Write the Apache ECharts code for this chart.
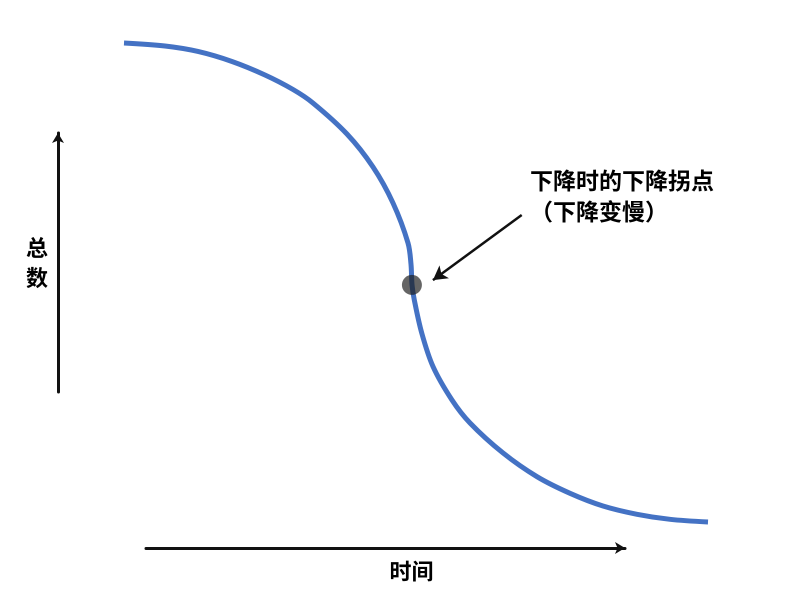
<!DOCTYPE html>
<html>
<head>
<meta charset="utf-8">
<script src="https://cdn.jsdelivr.net/npm/echarts@6/dist/echarts.min.js"></script>
<style>
html,body{margin:0;padding:0;background:#fff;}
#chart{width:812px;height:610px;}
</style>
</head>
<body>
<div id="chart"></div>
<script>
// Curve: time (0-100) vs total (0-100)
var curveTime  = [0, 7.02, 12.67, 18.49, 24.14, 28.94, 32.36, 38.18, 42.64, 46.06, 48.63, 49.14, 49.32,
                  49.71, 50.98, 52.91, 56.16, 59.25, 64.90, 70.72, 76.37, 82.02, 87.84, 93.49, 100];
var curveTotal = [100, 99.37, 98.23, 96.14, 93.32, 90.29, 87.47, 81.00, 74.11, 66.60, 58.25, 53.86, 49.48,
                  46.35, 39.46, 32.46, 25.47, 20.67, 14.41, 9.46, 5.99, 3.34, 1.61, 0.56, 0];
// Inflection point
var inflectionPoint = [49.3, 49.5];
// Annotation arrow (from text to point)
var annotationFrom = [68.1, 64.1];
var annotationTo = [52.9, 50.5];
// Texts
var xAxisName = '时间';
var yAxisName = '总\n数';
var annotationText = '下降时的下降拐点\n（下降变慢）';

var curveData = curveTime.map(function (t, i) { return [t, curveTotal[i]]; });
var FONT = '"Noto Sans CJK SC", "Noto Sans", sans-serif';

var chart = echarts.init(document.getElementById('chart'), null, { devicePixelRatio: 2 });
chart.setOption({
  animation: false,
  backgroundColor: '#ffffff',
  grid: [
    { left: 124, top: 43, width: 584, height: 479 },
    { left: 146, width: 479, top: 400, height: 148 },
    { left: 58, top: 133, height: 259, width: 100 }
  ],
  xAxis: [
    { gridIndex: 0, type: 'value', min: 0, max: 100, show: false },
    { gridIndex: 1, type: 'value', min: 0, max: 100,
      axisLine: { show: true, onZero: false, symbol: ['none', 'arrow'], symbolSize: [9, 10],
                  lineStyle: { color: '#111', width: 3 } },
      axisTick: { show: false }, axisLabel: { show: false }, splitLine: { show: false },
      name: xAxisName, nameLocation: 'middle', nameGap: 12,
      nameTextStyle: { fontFamily: FONT, fontWeight: 'bold', fontSize: 22, color: '#000',
                       padding: [0, 0, 0, 52] } },
    { gridIndex: 2, type: 'value', min: 0, max: 100, show: false }
  ],
  yAxis: [
    { gridIndex: 0, type: 'value', min: 0, max: 100, show: false },
    { gridIndex: 1, type: 'value', min: 0, max: 100, show: false },
    { gridIndex: 2, type: 'value', min: 0, max: 100,
      axisLine: { show: true, onZero: false, symbol: ['none', 'arrow'], symbolSize: [9, 10],
                  lineStyle: { color: '#111', width: 3 } },
      axisTick: { show: false }, axisLabel: { show: false }, splitLine: { show: false },
      name: yAxisName, nameLocation: 'middle', nameGap: 10, nameRotate: 0,
      nameTextStyle: { fontFamily: FONT, fontWeight: 'bold', fontSize: 22, lineHeight: 30, color: '#000',
                       padding: [13, 0, 0, 0] } }
  ],
  series: [
    {
      type: 'line',
      xAxisIndex: 0, yAxisIndex: 0,
      data: curveData,
      smooth: 0.34,
      showSymbol: false,
      clip: false,
      lineStyle: { color: '#4472C4', width: 5, join: 'round' },
      markLine: {
        silent: true,
        symbol: ['none', 'arrow'],
        symbolSize: [12, 14],
        label: { show: false },
        lineStyle: { color: '#111', width: 2.5, type: 'solid' },
        data: [[{ coord: annotationFrom }, { coord: annotationTo }]]
      }
    },
    {
      type: 'scatter',
      xAxisIndex: 0, yAxisIndex: 0,
      data: [inflectionPoint],
      symbolSize: 20,
      itemStyle: { color: 'rgba(30,30,30,0.85)' },
      z: 5
    }
  ],
  graphic: [
    {
      type: 'text',
      left: 530,
      top: 165,
      style: {
        text: annotationText,
        font: 'bold 23px ' + FONT,
        lineHeight: 31,
        fill: '#000'
      }
    }
  ]
});
</script>
</body>
</html>
